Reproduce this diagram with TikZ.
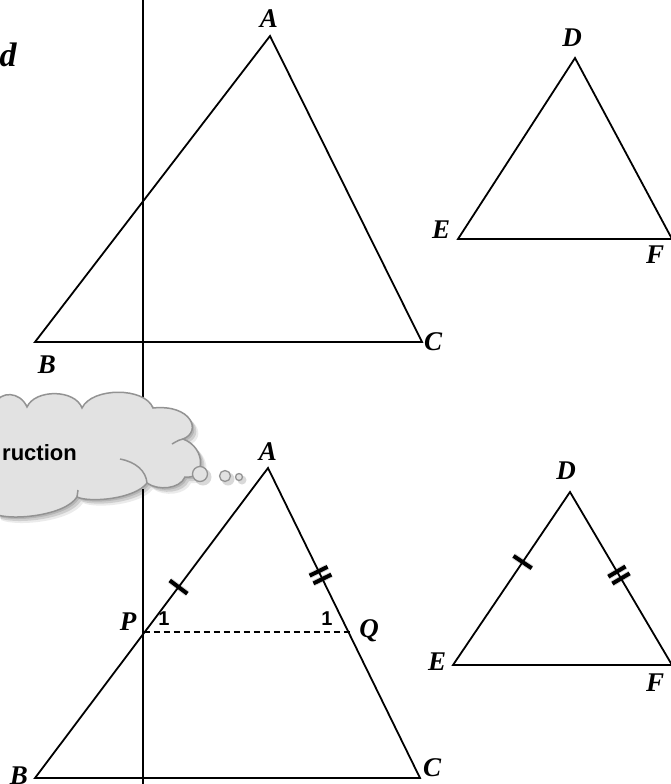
\documentclass[tikz,border=0pt]{standalone}
\usepackage{fontspec}
\setmainfont{Liberation Serif}
\newfontfamily\arialfont{Liberation Sans}
\usetikzlibrary{calc}
\definecolor{cloudfill}{HTML}{E2E2E2}
\definecolor{cloudline}{HTML}{939393}
\tikzset{
  edge/.style={line width=1.8pt, line join=miter},
  vlabel/.style={font=\fontsize{27}{31}\selectfont\bfseries\itshape, inner sep=0pt},
  anglabel/.style={font=\arialfont\fontsize{20}{23}\selectfont\bfseries, inner sep=0pt},
  tickmark/.style={line width=4pt},
  tickshadow/.style={line width=6pt, black, opacity=0.15, xshift=2pt, yshift=-2pt},
  cloudshape/.style={fill=cloudfill, draw=cloudline, line width=1.5pt},
  cloudshadow/.style={fill=black, opacity=0.12},
}
\def\cloudpath{(-5,404)
  .. controls (0,391) and (20,391) .. (27,407)
  .. controls (35,389) and (75,389) .. (82,408)
  .. controls (92,387) and (145,387) .. (153,408)
  .. controls (192,404) and (202,432) .. (183,439)
  .. controls (207,448) and (205,480) .. (185,477)
  .. controls (180,489) and (158,491) .. (147,483)
  .. controls (135,499) and (90,503) .. (77,497)
  .. controls (65,516) and (10,521) .. (-5,514)
  -- cycle}
\newcommand\tickpair[4]{%
  \draw[tickshadow] ($(#1)!#3!(#2)!#4!90:(#2)$) -- ($(#1)!#3!(#2)!#4!-90:(#2)$);
  \draw[tickmark] ($(#1)!#3!(#2)!#4!90:(#2)$) -- ($(#1)!#3!(#2)!#4!-90:(#2)$);}
\begin{document}
\begin{tikzpicture}[x=1pt,y=-1pt]
\clip (0,0) rectangle (671,784);
\useasboundingbox (0,0) rectangle (671,784);

% vertical line (hidden behind the cloud)
\coordinate (vtop) at (143,0);
\coordinate (vcl1) at (143,398);
\coordinate (vcl2) at (143,489);
\coordinate (vbot) at (143,784);
\draw[line width=1.8pt] (vtop) -- (vcl1);
\draw[line width=1.8pt] (vcl2) -- (vbot);

% cut-off word at top-left
\node[font=\fontsize{34}{38}\selectfont\bfseries\itshape, inner sep=0pt] (dlab) at (8,55) {d};

% ---------- top left triangle ----------
\coordinate (A1) at (270,36);
\coordinate (B1) at (35,342);
\coordinate (C1) at (422,342);
\draw[edge] (A1) -- (B1) -- (C1) -- cycle;
\node[vlabel] (lA1) at (269,19) {A};
\node[vlabel] (lB1) at (47,365) {B};
\node[vlabel] (lC1) at (433,342) {C};

% ---------- top right triangle ----------
\coordinate (D1) at (575,58);
\coordinate (E1) at (458,239);
\coordinate (F1) at (672,239);
\draw[edge] (D1) -- (E1) -- (F1) -- cycle;
\node[vlabel] (lD1) at (572,38) {D};
\node[vlabel] (lE1) at (441,230) {E};
\node[vlabel] (lF1) at (655,255) {F};

% ---------- cloud ----------
\begin{scope}[xshift=2pt,yshift=-2pt]\fill[cloudshadow] \cloudpath;\end{scope}
\begin{scope}[xshift=4pt,yshift=-4pt]\fill[cloudshadow] \cloudpath;\end{scope}
\begin{scope}[xshift=6pt,yshift=-6pt]\fill[cloudshadow,opacity=0.08] \cloudpath;\end{scope}
\path[cloudshape] \cloudpath;
\draw[cloudline, line width=1.5pt] (120,459) .. controls (136,462) and (146,471) .. (147,483);
\draw[cloudline, line width=1.5pt] (183,439) .. controls (179,440) .. (172,444);
\draw[cloudline, line width=1.5pt] (77,497) .. controls (77,494) .. (78,490);
\node[font=\arialfont\fontsize{22}{26}\selectfont\bfseries, anchor=east, inner sep=0pt] (ctext) at (77,453) {ruction};
\foreach \cx/\cy/\d/\n in {200/474/15/bub1, 225/476/11/bub2, 239/477/7/bub3}{
  \fill[black, opacity=0.15] (\cx+3,\cy+3) circle[radius=\d/2+1];
  \node[circle, minimum size=\d pt, inner sep=0pt, cloudshape, line width=1.3pt] (\n) at (\cx,\cy) {};
}

% ---------- bottom left triangle ----------
\coordinate (A2) at (268,468);
\coordinate (B2) at (35,778);
\coordinate (C2) at (420,778);
\coordinate (P) at (143.5,632);
\coordinate (Q) at (350,632);
\draw[edge] (A2) -- (B2) -- (C2) -- cycle;
\draw[line width=1.6pt, dash pattern=on 6pt off 4pt] (P) -- (Q);
\node[vlabel] (lA2) at (268,452) {A};
\node[vlabel] (lB2) at (19,776) {B};
\node[vlabel] (lC2) at (432,768) {C};
\node[vlabel] (lP) at (128,622) {P};
\node[vlabel] (lQ) at (369,631) {Q};
\node[anglabel] (one1) at (164,619) {1};
\node[anglabel] (one2) at (327,619) {1};
\tickpair{A2}{B2}{0.384}{11pt}
\tickpair{A2}{C2}{0.333}{10pt}
\tickpair{A2}{C2}{0.358}{10pt}

% ---------- bottom right triangle ----------
\coordinate (D2) at (570,492);
\coordinate (E2) at (453,665);
\coordinate (F2) at (672,665);
\draw[edge] (D2) -- (E2) -- (F2) -- cycle;
\node[vlabel] (lD2) at (566,471) {D};
\node[vlabel] (lE2) at (437,662) {E};
\node[vlabel] (lF2) at (655,683) {F};
\tickpair{D2}{E2}{0.405}{11pt}
\tickpair{D2}{F2}{0.46}{10pt}
\tickpair{D2}{F2}{0.5}{10pt}
\end{tikzpicture}
\end{document}
